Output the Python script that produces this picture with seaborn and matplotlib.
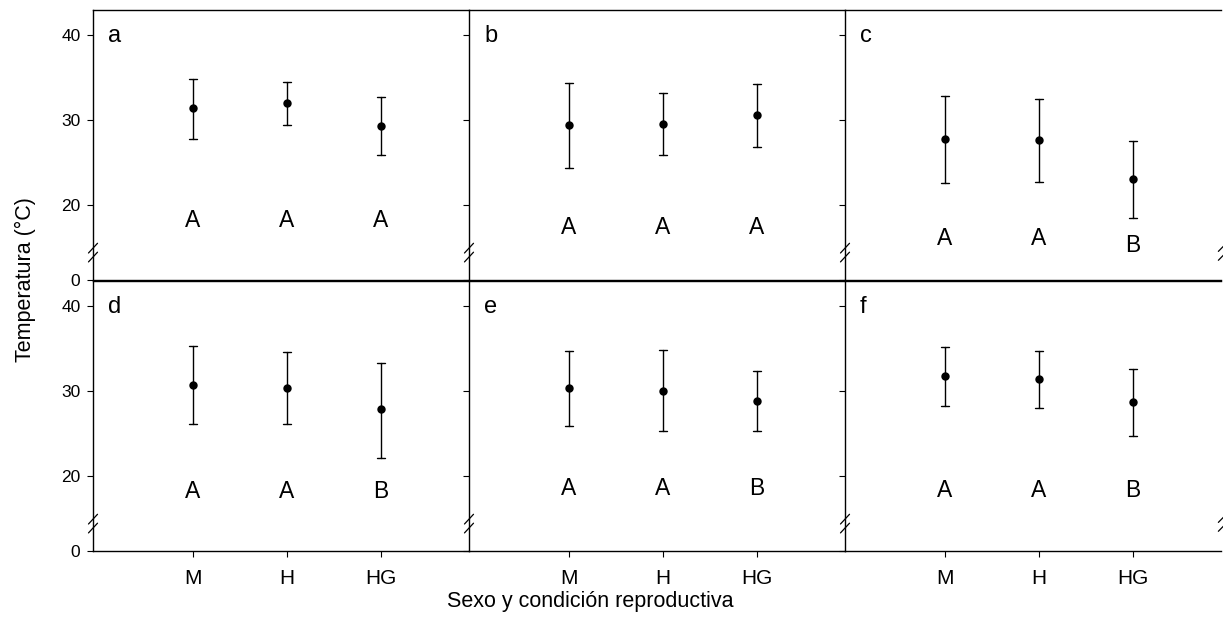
import numpy as np
import pandas as pd
import matplotlib
matplotlib.use("Agg")
import matplotlib.pyplot as plt
import seaborn as sns

sns.set_theme(style="white")
plt.rcParams['font.family'] = ['Liberation Sans', 'DejaVu Sans']
plt.rcParams['text.color'] = 'black'

groups = ["M", "H", "HG"]
panels = ["a", "b", "c", "d", "e", "f"]

means = {
    "a": [31.4, 32.0, 29.3],
    "b": [29.4, 29.6, 30.6],
    "c": [27.8, 27.7, 23.1],
    "d": [30.8, 30.4, 27.9],
    "e": [30.4, 30.1, 28.9],
    "f": [31.8, 31.4, 28.7],
}
lows = {
    "a": [27.8, 29.5, 25.9],
    "b": [24.4, 25.9, 26.9],
    "c": [22.6, 22.7, 18.5],
    "d": [26.1, 26.1, 22.2],
    "e": [25.9, 25.3, 25.3],
    "f": [28.3, 28.0, 24.7],
}
highs = {
    "a": [34.9, 34.5, 32.7],
    "b": [34.4, 33.2, 34.3],
    "c": [32.9, 32.5, 27.6],
    "d": [35.3, 34.6, 33.4],
    "e": [34.7, 34.9, 32.4],
    "f": [35.2, 34.7, 32.6],
}
letters = {
    "a": ["A", "A", "A"],
    "b": ["A", "A", "A"],
    "c": ["A", "A", "B"],
    "d": ["A", "A", "B"],
    "e": ["A", "A", "B"],
    "f": ["A", "A", "B"],
}
letter_y = {
    "a": [18.2, 18.2, 18.2],
    "b": [17.4, 17.4, 17.4],
    "c": [16.1, 16.1, 15.3],
    "d": [18.2, 18.2, 18.2],
    "e": [18.6, 18.6, 18.6],
    "f": [18.3, 18.3, 18.3],
}
yticks = [0, 20, 30, 40]

# broken-axis scale: values >= 12 linear, 0..12 compressed to 11.2..12
def fwd(v):
    v = np.asarray(v, dtype=float)
    return np.where(v >= 12, v, 11.2 + v * 0.8 / 12)

def inv(t):
    t = np.asarray(t, dtype=float)
    return np.where(t >= 12, t, (t - 11.2) * 12 / 0.8)

W, H = 1223, 630
fig = plt.figure(figsize=(W / 100, H / 100), dpi=100)

left0 = 93 / W
pw = 376 / W
ph = 270 / H
bottoms = [1 - 280 / H, 1 - 551 / H]

for i, p in enumerate(panels):
    row, col = divmod(i, 3)
    ax = fig.add_axes([left0 + col * pw, bottoms[row], pw, ph])
    ax.set_yscale('function', functions=(fwd, inv))
    rows = []
    for g, lo, mu, hi in zip(groups, lows[p], means[p], highs[p]):
        for v in (lo, mu, hi):
            rows.append({"grupo": g, "valor": v})
    df = pd.DataFrame(rows)
    sns.pointplot(data=df, x="grupo", y="valor", order=groups,
                  estimator="median",
                  errorbar=lambda v: (v.min(), v.max()),
                  color="black", linestyle="none", markers="o",
                  markersize=4, capsize=0.085,
                  err_kws={"linewidth": 1.0}, ax=ax)
    for j, (lt, ly) in enumerate(zip(letters[p], letter_y[p])):
        ax.text(j, ly, lt, ha="center", va="center", fontsize=16.5, color="black")
    ax.set_xlim(-1.06, 2.94)
    ax.set_ylim(0, 43)
    ax.set_yticks(yticks)
    ax.set_xlabel("")
    ax.set_ylabel("")
    ax.text(0.04, 0.905, p, transform=ax.transAxes, fontsize=17,
            ha="left", va="center", color="black")
    for s in ["top", "left", "bottom"]:
        ax.spines[s].set_visible(True)
        ax.spines[s].set_color("black")
        ax.spines[s].set_linewidth(1.0)
    ax.spines["right"].set_visible(False)
    ax.tick_params(axis="y", direction="out", length=4, width=0.8,
                   colors="black", labelsize=12.5, left=True, pad=5)
    if col != 0:
        ax.tick_params(axis="y", labelleft=False)
    if row == 0:
        ax.tick_params(axis="x", bottom=False, labelbottom=False)
    else:
        ax.tick_params(axis="x", direction="out", length=4, width=0.8,
                       colors="black", labelsize=15, bottom=True, pad=9)
    # break marks on the left spine
    for yc in (0.118, 0.085):
        ax.plot([-0.012, 0.012], [yc - 0.018, yc + 0.018],
                transform=ax.transAxes, color="black", lw=0.9, clip_on=False)
    if col == 2:
        for yc in (0.118, 0.085):
            ax.plot([0.993, 1.01], [yc - 0.012, yc + 0.012],
                    transform=ax.transAxes, color="black", lw=0.9, clip_on=False)

fig.text(25 / W, 1 - 280 / H, "Temperatura (°C)", rotation=90,
         ha="center", va="center", fontsize=15.5, color="black")
fig.text(590 / W, 1 - 602 / H, "Sexo y condición reproductiva",
         ha="center", va="center", fontsize=15.5, color="black")

fig.savefig("out.png", dpi=100)
